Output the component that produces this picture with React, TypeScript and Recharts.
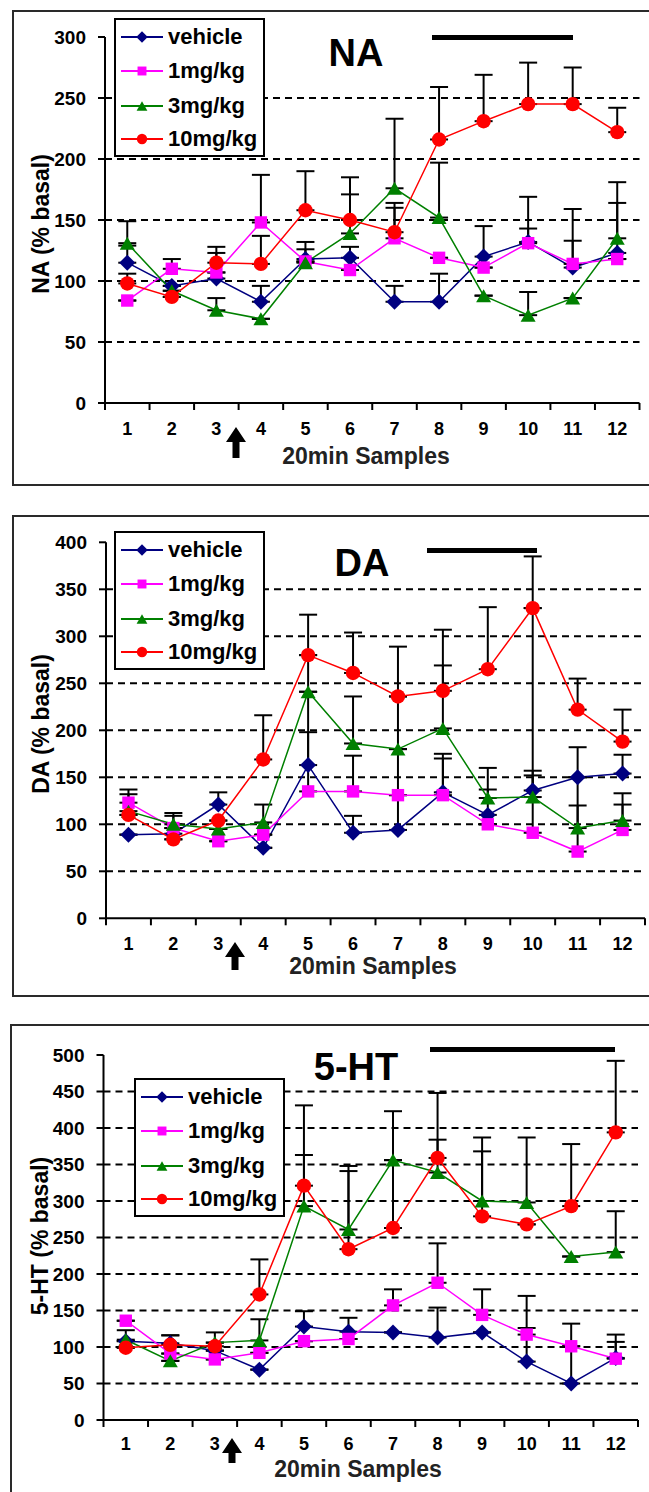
import { LineChart, Line, XAxis, YAxis, ReferenceLine, ErrorBar } from 'recharts';

const samples = ['1', '2', '3', '4', '5', '6', '7', '8', '9', '10', '11', '12'];
const groups = ['vehicle', '1mg/kg', '3mg/kg', '10mg/kg'];

// NA (% basal), mean and upper SEM
const naVehicle = [115, 96, 102, 83, 118, 119, 83, 83, 120, 132, 111, 123];
const naLow = [84, 110, 107, 148, 116, 109, 135, 119, 111, 131, 114, 118];
const naMid = [131, 92, 76, 69, 115, 139, 176, 152, 88, 72, 86, 135];
const naHigh = [98, 87, 115, 114, 158, 150, 140, 216, 231, 245, 245, 222];
const naVehicleErr = [14, 0, 21, 13, 14, 9, 13, 23, 25, 11, 22, 41];
const naLowErr = [0, 8, 0, 39, 0, 0, 25, 0, 0, 38, 45, 0];
const naMidErr = [18, 0, 10, 0, 11, 32, 57, 45, 0, 19, 0, 46];
const naHighErr = [8, 0, 13, 23, 32, 35, 24, 43, 38, 34, 30, 20];

// DA (% basal)
const daVehicle = [89, 90, 121, 75, 163, 91, 94, 134, 110, 136, 150, 154];
const daLow = [123, 96, 82, 89, 135, 135, 131, 131, 100, 91, 71, 94];
const daMid = [114, 100, 95, 102, 241, 186, 180, 202, 128, 129, 96, 104];
const daHigh = [110, 84, 104, 169, 280, 261, 236, 242, 265, 330, 222, 188];
const daVehicleErr = [0, 19, 13, 0, 35, 18, 195, 41, 27, 21, 32, 20];
const daLowErr = [14, 0, 0, 0, 145, 38, 0, 39, 0, 239, 79, 27];
const daMidErr = [18, 12, 0, 19, 0, 50, 0, 67, 32, 23, 24, 29];
const daHighErr = [0, 0, 0, 47, 43, 43, 0, 65, 66, 55, 33, 34];

// 5-HT (% basal)
const htVehicle = [108, 105, 95, 69, 128, 121, 120, 113, 120, 80, 50, 85];
const htLow = [136, 91, 83, 92, 108, 111, 157, 188, 144, 117, 101, 84];
const htMid = [110, 81, 106, 109, 293, 261, 356, 339, 300, 298, 224, 230];
const htHigh = [99, 103, 101, 172, 321, 234, 263, 359, 279, 268, 293, 394];
const htVehicleErr = [0, 11, 0, 0, 21, 19, 0, 41, 0, 46, 51, 22];
const htLowErr = [0, 0, 0, 0, 0, 0, 22, 54, 35, 53, 31, 33];
const htMidErr = [13, 0, 0, 29, 70, 87, 0, 45, 68, 89, 0, 56];
const htHighErr = [0, 13, 19, 48, 110, 107, 160, 89, 108, 0, 85, 98];

const naTicks = [0, 50, 100, 150, 200, 250, 300];
const daTicks = [0, 50, 100, 150, 200, 250, 300, 350, 400];
const htTicks = [0, 50, 100, 150, 200, 250, 300, 350, 400, 450, 500];

const colors = ['#000080', '#ff00ff', '#008000', '#ff0000'];
const font = '"Liberation Sans", Arial, Helvetica, sans-serif';

function makeRows(vals: number[][], errs: number[][]) {
  return samples.map((sample, i) => {
    const row: Record<string, any> = { sample };
    vals.forEach((v, k) => {
      row[`v${k}`] = v[i];
      row[`e${k}`] = [0, errs[k][i]];
    });
    return row;
  });
}

function Marker({ kind, cx, cy, small }: { kind: number; cx: number; cy: number; small?: boolean }) {
  const f = small ? 0.72 : 1;
  const c = colors[kind];
  if (kind === 0) {
    const r = 8 * f;
    return <polygon points={`${cx},${cy - r} ${cx + r},${cy} ${cx},${cy + r} ${cx - r},${cy}`} fill={c} />;
  }
  if (kind === 1) {
    const h = 6.2 * f;
    return <rect x={cx - h} y={cy - h} width={h * 2} height={h * 2} fill={c} />;
  }
  if (kind === 2) {
    const w = 7.5 * f;
    const h = 6.5 * f;
    return <polygon points={`${cx},${cy - h} ${cx + w},${cy + h} ${cx - w},${cy + h}`} fill={c} />;
  }
  return <circle cx={cx} cy={cy} r={7.2 * f} fill={c} />;
}

type Cfg = {
  top: number;
  height: number;
  plotLeft: number;
  plotRight: number;
  plotTop: number;
  plotBottom: number;
  ticks: number[];
  values: number[][];
  errors: number[][];
  title: string;
  yTitle: string;
  box: [number, number, number];
  titlePos: [number, number];
  bar: [number, number, number];
  arrow: [number, number, number];
  xTitle: [number, number];
  yTitlePos: [number, number];
  legend: [number, number];
  labelDy: number;
};

function Panel(p: Cfg) {
  const rows = makeRows(p.values, p.errors);
  const half = (p.plotRight - p.plotLeft) / 24;
  const yMax = p.ticks[p.ticks.length - 1];
  const grid = p.ticks.slice(1, -1);
  const xAxisH = 40;
  const text = { fontFamily: font, fontWeight: 700, color: '#000' } as const;

  const renderTick = (t: any) => (
    <g key={`t${t.index}`}>
      <line x1={t.x - half} y1={t.y} x2={t.x - half} y2={t.y + 7} stroke="#000" strokeWidth={2} />
      {t.index === samples.length - 1 && (
        <line x1={t.x + half} y1={t.y} x2={t.x + half} y2={t.y + 7} stroke="#000" strokeWidth={2} />
      )}
      <text x={t.x} y={t.y + p.labelDy} textAnchor="middle" dominantBaseline="central" fontFamily={font} fontWeight={700} fontSize={18} fill="#000">
        {t.payload.value}
      </text>
    </g>
  );

  const [ax, ay0, ay1] = p.arrow;

  return (
    <>
      <div style={{ position: 'absolute', left: p.box[0], top: p.box[1], width: 700, height: p.box[2], border: '2px solid #2a2a2a' }} />
      <div style={{ position: 'absolute', left: 0, top: p.top }}>
        <LineChart
          width={649}
          height={p.height}
          data={rows}
          margin={{ top: p.plotTop, right: 649 - p.plotRight, left: 0, bottom: p.height - p.plotBottom - xAxisH }}
        >
          <XAxis
            dataKey="sample"
            height={xAxisH}
            padding={{ left: half, right: half }}
            interval={0}
            tickLine={false}
            tickSize={0}
            tickMargin={0}
            tick={renderTick}
            axisLine={{ stroke: '#000', strokeWidth: 2 }}
          />
          <YAxis
            width={p.plotLeft}
            domain={[0, yMax]}
            ticks={p.ticks}
            allowDataOverflow
            interval={0}
            tickSize={7}
            tickMargin={12}
            tickLine={{ stroke: '#000', strokeWidth: 2 }}
            axisLine={{ stroke: '#000', strokeWidth: 2 }}
            tick={{ fill: '#000', fontSize: 19, fontWeight: 700, fontFamily: font }}
          />
          {grid.map((v) => (
            <ReferenceLine key={v} y={v} stroke="#000" strokeWidth={2} strokeDasharray="7 5" />
          ))}
          {groups.map((g, k) => (
            <Line
              key={g}
              name={g}
              dataKey={`v${k}`}
              stroke={colors[k]}
              strokeWidth={1.5}
              isAnimationActive={false}
              activeDot={false}
              dot={(d: any) => <Marker key={`d${k}-${d.index}`} kind={k} cx={d.cx} cy={d.cy} />}
            >
              <ErrorBar dataKey={`e${k}`} width={9} stroke="#000" strokeWidth={2} direction="y" isAnimationActive={false} />
            </Line>
          ))}
        </LineChart>
      </div>

      <div style={{ ...text, position: 'absolute', left: p.titlePos[0], top: p.titlePos[1], transform: 'translate(-50%, -50%)', fontSize: 38, lineHeight: 1 }}>
        {p.title}
      </div>
      <div style={{ position: 'absolute', left: p.bar[0], top: p.bar[2] - 2.5, width: p.bar[1] - p.bar[0], height: 5, background: '#000' }} />
      <svg style={{ position: 'absolute', left: ax - 12, top: ay0 }} width={24} height={ay1 - ay0}>
        <polygon
          points={`12,0 22,15 15.5,15 15.5,${ay1 - ay0} 8.5,${ay1 - ay0} 8.5,15 2,15`}
          fill="#000"
        />
      </svg>
      <div style={{ ...text, position: 'absolute', left: p.xTitle[0], top: p.xTitle[1], transform: 'translate(-50%, -50%)', fontSize: 23, lineHeight: 1, whiteSpace: 'nowrap', color: '#222' }}>
        20min Samples
      </div>
      <div style={{ ...text, position: 'absolute', left: p.yTitlePos[0], top: p.yTitlePos[1], transform: 'translate(-50%, -50%) rotate(-90deg)', fontSize: 23, lineHeight: 1, whiteSpace: 'nowrap' }}>
        {p.yTitle}
      </div>

      <div style={{ position: 'absolute', left: p.legend[0], top: p.legend[1], width: 147, height: 135, border: '2px solid #000', background: '#fff' }}>
        {groups.map((g, k) => {
          const rowY = [17, 51, 86, 119][k];
          return (
            <div key={g} style={{ position: 'absolute', left: 0, top: rowY - 12, height: 24, width: 147 }}>
              <svg style={{ position: 'absolute', left: 4, top: 0 }} width={44} height={24}>
                <line x1={1} y1={12} x2={43} y2={12} stroke={colors[k]} strokeWidth={2} />
                <Marker kind={k} cx={22} cy={12} small />
              </svg>
              <span style={{ ...text, position: 'absolute', left: 52, top: 0, fontSize: 22, lineHeight: '24px', whiteSpace: 'nowrap' }}>{g}</span>
            </div>
          );
        })}
      </div>
    </>
  );
}

export default function App() {
  return (
    <div style={{ position: 'absolute', left: 0, top: 0, width: 649, height: 1492, overflow: 'hidden', background: '#fff' }}>
      <Panel
        top={0}
        height={480}
        plotLeft={105}
        plotRight={639.5}
        plotTop={37}
        plotBottom={403}
        ticks={naTicks}
        values={[naVehicle, naLow, naMid, naHigh]}
        errors={[naVehicleErr, naLowErr, naMidErr, naHighErr]}
        title="NA"
        yTitle="NA (% basal)"
        box={[12, 10, 472]}
        titlePos={[356, 53]}
        bar={[432, 573, 37]}
        arrow={[236, 427, 458]}
        xTitle={[366, 456]}
        yTitlePos={[41, 224]}
        legend={[114, 18]}
        labelDy={26}
      />
      <Panel
        top={500}
        height={500}
        plotLeft={106}
        plotRight={645}
        plotTop={42.3}
        plotBottom={418.3}
        ticks={daTicks}
        values={[daVehicle, daLow, daMid, daHigh]}
        errors={[daVehicleErr, daLowErr, daMidErr, daHighErr]}
        title="DA"
        yTitle="DA (% basal)"
        box={[12, 515, 478]}
        titlePos={[362, 563]}
        bar={[427, 537, 550]}
        arrow={[235, 942, 970]}
        xTitle={[373, 966]}
        yTitlePos={[41, 724]}
        legend={[114, 531]}
        labelDy={26}
      />
      <Panel
        top={1010}
        height={482}
        plotLeft={103.5}
        plotRight={638}
        plotTop={45}
        plotBottom={410}
        ticks={htTicks}
        values={[htVehicle, htLow, htMid, htHigh]}
        errors={[htVehicleErr, htLowErr, htMidErr, htHighErr]}
        title="5-HT"
        yTitle="5-HT (% basal)"
        box={[10, 1024, 520]}
        titlePos={[356, 1067]}
        bar={[430, 615, 1049]}
        arrow={[232, 1438, 1463]}
        xTitle={[358, 1469]}
        yTitlePos={[40, 1236]}
        legend={[134, 1078]}
        labelDy={24}
      />
    </div>
  );
}
